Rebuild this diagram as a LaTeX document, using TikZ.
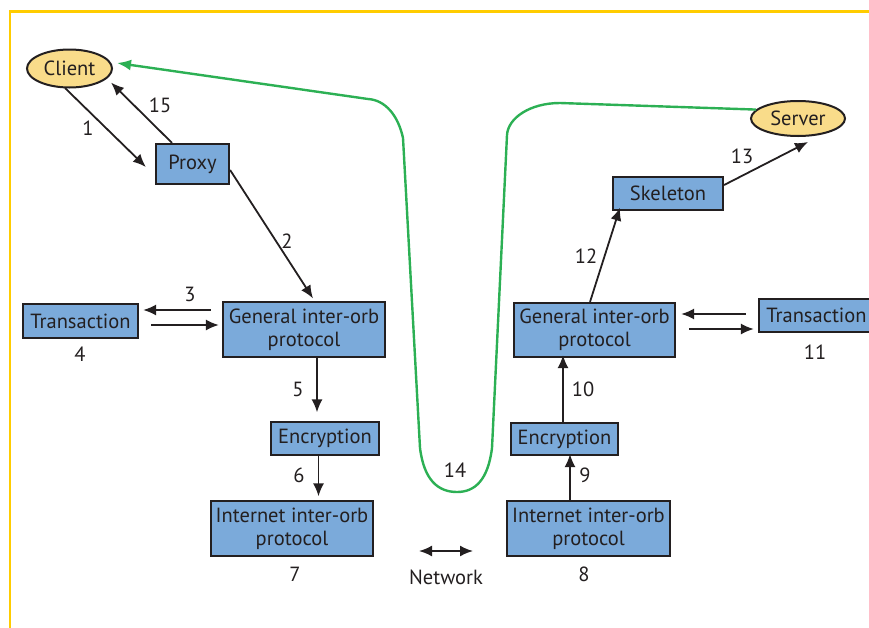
\documentclass[tikz,border=0pt]{standalone}
\usepackage{fontspec}
\setmainfont{PT Sans}
\usetikzlibrary{arrows.meta,calc,shapes.geometric}

\definecolor{boxblue}{RGB}{123,170,218}
\definecolor{endgold}{RGB}{249,220,138}
\definecolor{pathgreen}{RGB}{44,176,84}
\definecolor{frameyellow}{RGB}{255,204,0}
\definecolor{ink}{RGB}{35,31,32}

\tikzset{
  every node/.style={font=\fontsize{20.5}{23}\selectfont, text=ink},
  block/.style={draw=ink, line width=2.2pt, fill=boxblue, rectangle, inner sep=0pt, align=center},
  endpoint/.style={draw=ink, line width=2pt, fill=endgold, ellipse, inner sep=0pt},
  arr/.style={draw=ink, line width=1.8pt, -{Latex[length=13pt,width=11pt]}},
  twoway/.style={draw=ink, line width=1.8pt, {Latex[length=13pt,width=11pt]}-{Latex[length=13pt,width=11pt]}},
  num/.style={inner sep=0pt},
  returnpath/.style={draw=pathgreen, line width=2.4pt, -{Latex[length=14pt,width=11pt]}}
}

\begin{document}
\begin{tikzpicture}[x=1pt,y=-1pt]
\useasboundingbox (0,0) rectangle (869,627);
\clip (0,0) rectangle (869,627);

% frame
\draw[frameyellow, line width=2.6pt] (10,640) -- (10,11.5) -- (880,11.5);

% client side
\node[endpoint, minimum width=85pt, minimum height=38pt] (client) at (69.5,68.5) {Client};
\node[block, minimum width=73pt, minimum height=40pt] (proxy) at (192.5,164) {Proxy};
\node[block, minimum width=115pt, minimum height=34pt] (transL) at (80.5,321) {Transaction};
\node[block, minimum width=162pt, minimum height=55pt] (giopL) at (304,329.5) {General inter-orb\\protocol};
\node[block, minimum width=108pt, minimum height=33pt] (encL) at (325,438.5) {Encryption};
\node[block, minimum width=162pt, minimum height=55pt] (iiopL) at (292,528.5) {Internet inter-orb\\protocol};

% server side
\node[endpoint, minimum width=94pt, minimum height=35pt] (server) at (798,118.5) {Server};
\node[block, minimum width=110pt, minimum height=33pt] (skel) at (668,193.5) {Skeleton};
\node[block, minimum width=161pt, minimum height=54pt] (giopR) at (594.5,330) {General inter-orb\\protocol};
\node[block, minimum width=115pt, minimum height=33pt] (transR) at (816.5,315.5) {Transaction};
\node[block, minimum width=107pt, minimum height=32pt] (encR) at (564.5,439) {Encryption};
\node[block, minimum width=163pt, minimum height=55pt] (iiopR) at (588.5,528.5) {Internet inter-orb\\protocol};

% step numbers
\node[num] (n1) at (88,128) {1};
\node[num] (n15) at (160,105) {15};
\node[num] (n2) at (287,241) {2};
\node[num] (n3) at (190,294) {3};
\node[num] (n4) at (80,354) {4};
\node[num] (n5) at (298,389) {5};
\node[num] (n6) at (299,475) {6};
\node[num] (n7) at (295,574) {7};
\node[num] (n14) at (455,470) {14};
\node[num] (n8) at (584,574) {8};
\node[num] (n9) at (585,475) {9};
\node[num] (n10) at (583,389) {10};
\node[num] (n11) at (815,352) {11};
\node[num] (n12) at (586,256) {12};
\node[num] (n13) at (742,156) {13};
\node[num] (net) at (446,577) {Network};

% network link
\coordinate (netL) at (419,551);
\coordinate (netR) at (473,551);
\draw[twoway] (netL) -- (netR);

% client-side calls
\draw[arr] ($(client.south)+(-4.5,-0.5)$) -- ($(proxy.west)+(-9,3)$);
\draw[arr] ($(proxy.north)+(-20.5,0)$) -- ($(client.east)+(-2,14)$);
\draw[arr] ($(proxy.east)+(0,6)$) -- ($(giopL.north)+(9,-2.5)$);
\draw[arr] ($(giopL.west)+(-11,-19.5)$) -- ($(transL.east)+(4,-11)$);
\draw[arr] ($(transL.east)+(12,4)$) -- ($(giopL.west)+(-3,-4.5)$);
\draw[arr] ($(giopL.south)+(13,0)$) -- ($(encL.north)+(-8,-8.5)$);
\draw[arr] ($(encL.south)+(-6.5,0)$) -- ($(iiopL.north)+(26.5,-3.5)$);

% server-side calls
\draw[arr] ($(iiopR.north)+(-18.5,0)$) -- ($(encR.south)+(5.5,-2)$);
\draw[arr] ($(encR.north)+(-1.5,0)$) -- ($(giopR.south)+(-31.5,-3)$);
\draw[arr] ($(giopR.north)+(-4.5,0)$) -- ($(skel.south)+(-48,-3.5)$);
\draw[arr] ($(skel.east)+(0,-8.5)$) -- ($(server.south)+(10,5)$);
\draw[arr] ($(transR.west)+(-12,-1.5)$) -- ($(giopR.east)+(5,-16)$);
\draw[arr] ($(giopR.east)+(13,-1)$) -- ($(transR.west)+(-4,13.5)$);

% return path from server to client through the network
\draw[returnpath] (server.168) -- (560,103)
  .. controls (530,103) and (508,118) .. (507,135)
  -- (492,448)
  .. controls (488,480) and (475,492) .. (457,492)
  .. controls (438,492) and (424,480) .. (420,448)
  -- (403,138)
  .. controls (398,115) and (385,100) .. (368,99)
  -- ($(client.east)+(4,-5.5)$);
\end{tikzpicture}
\end{document}
